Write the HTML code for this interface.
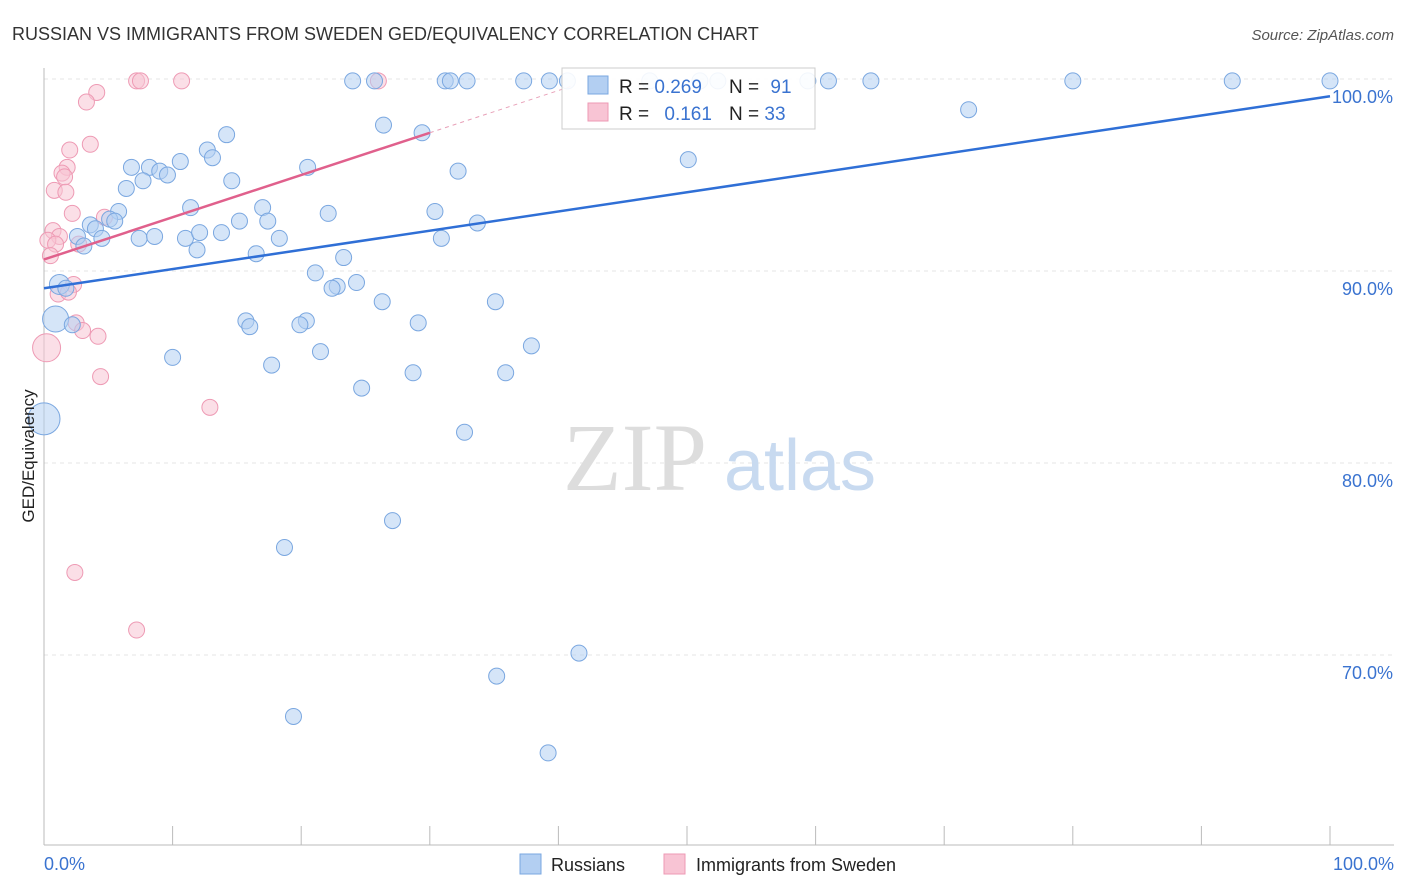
<!DOCTYPE html>
<html><head><meta charset="utf-8"><style>
body{margin:0;background:#fff;font-family:"Liberation Sans",sans-serif;}
svg{display:block}
</style></head><body>
<svg id="chart" width="1406" height="892" xmlns="http://www.w3.org/2000/svg">
<text x="12" y="40" font-size="18" fill="#333">RUSSIAN VS IMMIGRANTS FROM SWEDEN GED/EQUIVALENCY CORRELATION CHART</text>
<text x="1394" y="40" font-size="15" fill="#555" font-style="italic" text-anchor="end">Source: ZipAtlas.com</text>
<g id="grid"></g>
<g id="axes"></g>
<g>
<text x="635" y="490" font-size="96" font-family="Liberation Serif,serif" fill="#ddd" text-anchor="middle">ZIP</text>
<text x="800" y="490" font-size="72" fill="#c8daf0" text-anchor="middle">atlas</text>
</g>
<g id="pts"></g>
<g id="trend"></g>
<text transform="translate(34,456) rotate(-90)" font-size="17" fill="#222" text-anchor="middle">GED/Equivalency</text>
<g>
<rect x="562" y="68" width="253" height="61" fill="#fff" fill-opacity="0.9" stroke="#ccc"/>
<rect x="588" y="76" width="20" height="18" fill="#b3cff2" stroke="#7aa7e0"/>
<rect x="588" y="103" width="20" height="18" fill="#f8c4d4" stroke="#ee9ab4"/>
<text x="619" y="93" font-size="19" fill="#222">R = <tspan fill="#3a73d0">0.269</tspan></text>
<text x="729" y="93" font-size="19" fill="#222">N = <tspan fill="#3a73d0" dx="6">91</tspan></text>
<text x="619" y="120" font-size="19" fill="#222">R = <tspan fill="#3a73d0" dx="10">0.161</tspan></text>
<text x="729" y="120" font-size="19" fill="#222">N = <tspan fill="#3a73d0">33</tspan></text>
</g>
<g>
<rect x="520" y="854" width="21" height="20" fill="#b3cff2" stroke="#7aa7e0"/>
<text x="551" y="871" font-size="18" fill="#222">Russians</text>
<rect x="664" y="854" width="21" height="20" fill="#f8c4d4" stroke="#ee9ab4"/>
<text x="696" y="871" font-size="18" fill="#222">Immigrants from Sweden</text>
</g>
</svg>
<script>
const blueX=[24.0,25.7,31.2,31.6,32.9,37.3,39.3,40.7,47.1,51.0,52.4,59.4,61.0,64.3,80.0,92.4,100,71.9,26.4,29.4,14.2,12.7,13.1,50.1,6.8,8.2,9.0,9.6,10.6,7.7,20.5,32.2,14.6,6.4,11.4,5.8,17.0,30.4,22.1,15.2,17.4,33.7,3.6,4.0,5.1,5.5,2.6,3.1,4.5,7.4,8.6,11.0,12.1,13.8,18.3,30.9,11.9,16.5,23.3,21.1,24.3,22.8,22.4,1.2,1.7,26.3,35.1,0.9,15.7,16.0,20.4,19.9,29.1,2.2,21.5,37.9,10.0,17.7,28.7,35.9,24.7,0,32.7,27.1,18.7,41.6,35.2,19.4,39.2];
const blueY=[99.9,99.9,99.9,99.9,99.9,99.9,99.9,99.9,99.9,99.9,99.9,99.9,99.9,99.9,99.9,99.9,99.9,98.4,97.6,97.2,97.1,96.3,95.9,95.8,95.4,95.4,95.2,95.0,95.7,94.7,95.4,95.2,94.7,94.3,93.3,93.1,93.3,93.1,93.0,92.6,92.6,92.5,92.4,92.2,92.7,92.6,91.8,91.3,91.7,91.7,91.8,91.7,92.0,92.0,91.7,91.7,91.1,90.9,90.7,89.9,89.4,89.2,89.1,89.3,89.1,88.4,88.4,87.5,87.4,87.1,87.4,87.2,87.3,87.2,85.8,86.1,85.5,85.1,84.7,84.7,83.9,82.3,81.6,77.0,75.6,70.1,68.9,66.8,64.9];
const blueR=[8,8,8,8,8,8,8,8,8,8,8,8,8,8,8,8,8,8,8,8,8,8,8,8,8,8,8,8,8,8,8,8,8,8,8,8,8,8,8,8,8,8,8,8,8,8,8,8,8,8,8,8,8,8,8,8,8,8,8,8,8,8,8,10,8,8,8,13,8,8,8,8,8,8,8,8,8,8,8,8,8,16,8,8,8,8,8,8,8];
const pinkX=[7.2,7.5,10.7,26.0,4.1,3.3,3.6,2.0,1.8,1.4,1.6,0.8,1.7,2.2,4.7,0.7,1.2,0.3,0.9,2.7,0.5,2.3,1.1,1.9,2.5,3.0,4.2,0.2,4.4,12.9,2.4,7.2];
const pinkY=[99.9,99.9,99.9,99.9,99.3,98.8,96.6,96.3,95.4,95.1,94.9,94.2,94.1,93.0,92.8,92.1,91.8,91.6,91.4,91.4,90.8,89.3,88.8,88.9,87.3,86.9,86.6,86.0,84.5,82.9,74.3,71.3];
const pinkR=[8,8,8,8,8,8,8,8,8,8,8,8,8,8,8,8,8,8,8,8,8,8,8,8,8,8,8,14,8,8,8,8];
const blueTrend=[89.1,99.1]; // y at x=0 and x=100
const pinkTrend=[90.6,0.22]; // intercept, slope
const yTicks=[100,90,80,70];
const xTickVals=[0,10,20,30,40,50,60,70,80,90,100];
const NS="http://www.w3.org/2000/svg";
const X=v=>44+v*12.86, Y=v=>79+(100-v)*19.2;
function mk(tag,attrs,parent){const e=document.createElementNS(NS,tag);for(const k in attrs)e.setAttribute(k,attrs[k]);parent.appendChild(e);return e;}
const grid=document.getElementById('grid'),axes=document.getElementById('axes');
yTicks.forEach(t=>{
 const l=mk('line',{x1:44,x2:1394,y1:Y(t),y2:Y(t),stroke:'#e4e4e4','stroke-dasharray':'4,4'},grid);
 
 
 const tx=mk('text',{x:1393,y:Y(t)+24,'font-size':18,fill:'#3a73d0','text-anchor':'end'},axes);
 tx.textContent=t.toFixed(1)+'%';
 
 
});
const xa=mk('line',{x1:44,x2:1394,y1:845,y2:845,stroke:'#bbb'},axes);


const ya=mk('line',{x1:44,x2:44,y1:68,y2:845,stroke:'#bbb'},axes);


xTickVals.forEach(v=>{const t=mk('line',{x1:X(v),x2:X(v),y1:826,y2:845,stroke:'#bbb'},axes);
 
 });
[[0,'start',44],[100,'end',1394]].forEach(a=>{const t=mk('text',{x:a[2],y:870,'font-size':18,fill:'#3a73d0','text-anchor':a[1]},axes);t.textContent=a[0].toFixed(1)+'%';
 
 });
const pts=document.getElementById('pts');
pinkX.forEach((x,i)=>{const c=mk('circle',{cx:X(x),cy:Y(pinkY[i]),r:pinkR[i],fill:'#f8c4d4','fill-opacity':0.55,stroke:'#ee9ab4','stroke-width':1},pts);
 
 });
blueX.forEach((x,i)=>{const c=mk('circle',{cx:X(x),cy:Y(blueY[i]),r:blueR[i],fill:'#b3cff2','fill-opacity':0.55,stroke:'#7aa7e0','stroke-width':1},pts);
 
 });
const tr=document.getElementById('trend');
const bl=mk('line',{x1:X(0),y1:Y(blueTrend[0]),x2:X(100),y2:Y(blueTrend[1]),stroke:'#2f6fd6','stroke-width':2.5},tr);


const pl=mk('line',{x1:X(0),y1:Y(pinkTrend[0]),x2:X(30),y2:Y(pinkTrend[0]+30*pinkTrend[1]),stroke:'#e0608c','stroke-width':2.5},tr);


const pd=mk('line',{x1:X(30),y1:Y(pinkTrend[0]+30*pinkTrend[1]),x2:X(41),y2:Y(pinkTrend[0]+41*pinkTrend[1]),stroke:'#e8a0b8','stroke-width':1,'stroke-dasharray':'4,4'},tr);


</script>
</body></html>
